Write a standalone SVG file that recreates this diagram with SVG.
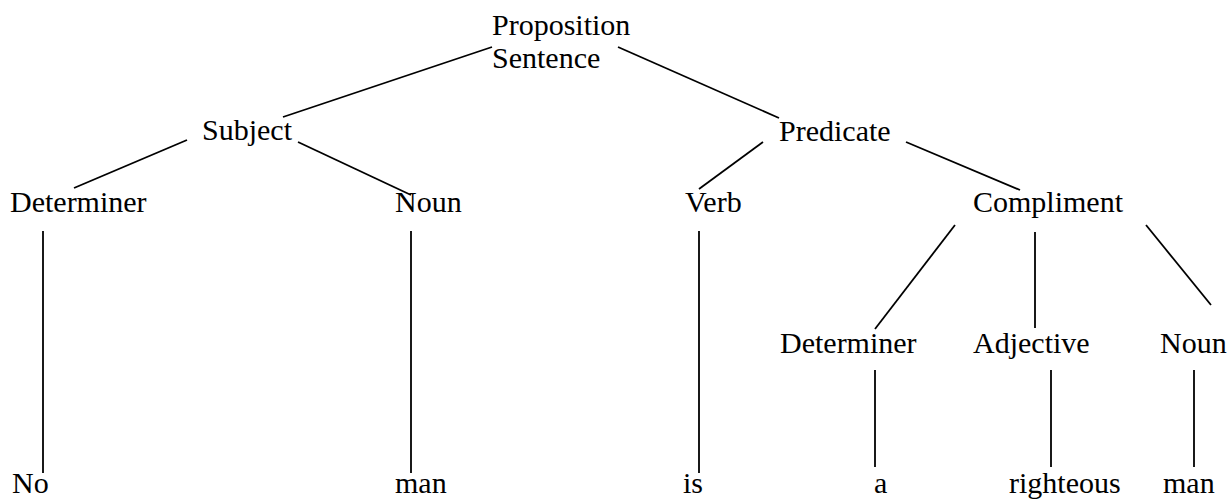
<svg xmlns="http://www.w3.org/2000/svg" width="1231" height="499" viewBox="0 0 1231 499">
<style>
text{font-family:"Liberation Serif","Times New Roman",serif;font-size:30px;fill:#000}
line{stroke:#000;stroke-width:1.8;stroke-linecap:butt}
</style>
<rect width="1231" height="499" fill="#fff"/>
<g id="connectors">
<line x1="492" y1="47" x2="283" y2="117"/>
<line x1="618" y1="47" x2="779" y2="118"/>
<line x1="187" y1="140" x2="74" y2="188"/>
<line x1="298" y1="142" x2="411" y2="195"/>
<line x1="763" y1="142" x2="699" y2="189"/>
<line x1="906" y1="142" x2="1020" y2="190"/>
<line x1="43" y1="231" x2="43" y2="473"/>
<line x1="411" y1="231" x2="411" y2="473"/>
<line x1="699" y1="231" x2="699" y2="473"/>
<line x1="955" y1="225" x2="875" y2="329"/>
<line x1="1035" y1="232" x2="1035" y2="328"/>
<line x1="1146" y1="225" x2="1211" y2="305"/>
<line x1="875" y1="370" x2="875" y2="467"/>
<line x1="1051" y1="370" x2="1051" y2="467"/>
<line x1="1194" y1="370" x2="1194" y2="467"/>
</g>
<g id="root"><text x="492" y="35">Proposition</text><text x="492" y="68">Sentence</text></g>
<g id="subject"><text x="202" y="140">Subject</text></g>
<g id="predicate"><text x="779" y="141">Predicate</text></g>
<g id="determiner1"><text x="10" y="212">Determiner</text></g>
<g id="noun1"><text x="395" y="212">Noun</text></g>
<g id="verb"><text x="685" y="212">Verb</text></g>
<g id="compliment"><text x="973" y="212">Compliment</text></g>
<g id="determiner2"><text x="780" y="353">Determiner</text></g>
<g id="adjective"><text x="973" y="353">Adjective</text></g>
<g id="noun2"><text x="1160" y="353">Noun</text></g>
<g id="w-no"><text x="12" y="493">No</text></g>
<g id="w-man1"><text x="395" y="493">man</text></g>
<g id="w-is"><text x="683" y="493">is</text></g>
<g id="w-a"><text x="874" y="493">a</text></g>
<g id="w-righteous"><text x="1009" y="493">righteous</text></g>
<g id="w-man2"><text x="1163" y="493">man</text></g>
</svg>
